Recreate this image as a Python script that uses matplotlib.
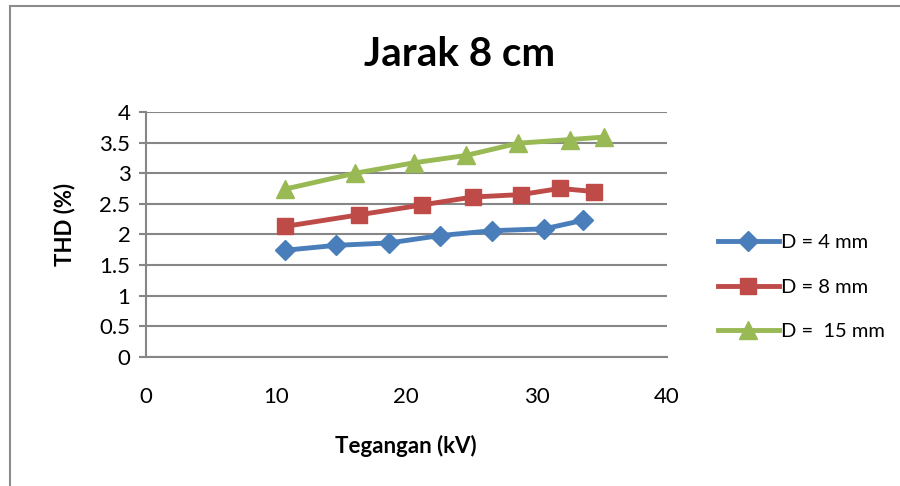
import matplotlib.pyplot as plt
from matplotlib.patches import Rectangle

plt.rcParams['font.family'] = ['Lato', 'DejaVu Sans']

# Data
x_4mm = [10.7, 14.6, 18.7, 22.6, 26.6, 30.6, 33.6]
thd_4mm = [1.74, 1.82, 1.86, 1.98, 2.06, 2.09, 2.23]

x_8mm = [10.7, 16.4, 21.2, 25.1, 28.8, 31.8, 34.4]
thd_8mm = [2.13, 2.32, 2.48, 2.61, 2.65, 2.75, 2.70]

x_15mm = [10.7, 16.1, 20.6, 24.6, 28.6, 32.6, 35.2]
thd_15mm = [2.74, 3.00, 3.17, 3.29, 3.49, 3.55, 3.59]

labels = ['D = 4 mm', 'D = 8 mm', 'D =  15 mm']
grid_col = '#868686'

fig = plt.figure(figsize=(9, 4.86), dpi=100)
ax = fig.add_axes([145.7 / 900, 1 - 356.7 / 486, (666.7 - 145.7) / 900, (356.7 - 112) / 486])

ax.plot(x_4mm, thd_4mm, color='#4a7ebb', lw=3.5, marker='D', ms=10, label=labels[0])
ax.plot(x_8mm, thd_8mm, color='#be4b48', lw=3.5, marker='s', ms=12, label=labels[1])
ax.plot(x_15mm, thd_15mm, color='#98b954', lw=3.5, marker='^', ms=13, label=labels[2])

ax.set_xlim(0, 40)
ax.set_ylim(0, 4)
ax.set_xticks([0, 10, 20, 30, 40])
ax.set_yticks([0, 0.5, 1, 1.5, 2, 2.5, 3, 3.5, 4])
ax.set_yticklabels(['0', '0.5', '1', '1.5', '2', '2.5', '3', '3.5', '4'])
ax.yaxis.grid(True, color=grid_col, lw=1.5)
ax.set_axisbelow(True)
for s in ['top', 'right']:
    ax.spines[s].set_visible(False)
for s in ['left', 'bottom']:
    ax.spines[s].set_color(grid_col)
    ax.spines[s].set_linewidth(1.5)
ax.tick_params(axis='x', length=0, pad=22, labelsize=16)
ax.tick_params(axis='y', length=5, width=1.5, color=grid_col, pad=6, labelsize=16)

ax.set_xlabel('Tegangan (kV)', fontsize=16, fontweight='bold', labelpad=20)
ax.set_ylabel('THD (%)', fontsize=16, fontweight='bold')
ax.yaxis.set_label_coords(-0.135, 0.54)
fig.text(460 / 900, 1 - 55 / 486, 'Jarak 8 cm', ha='center', va='center',
         fontsize=29, fontweight='bold')

fig.legend(loc='center left', bbox_to_anchor=(700 / 900, 1 - 287 / 486), frameon=False,
           fontsize=14.5, handlelength=3, labelspacing=1.35, handletextpad=0.1)

fig.add_artist(Rectangle((10 / 900, -0.1), 1.2, 1 - 6 / 486 + 0.1, transform=fig.transFigure,
                         fill=False, edgecolor='#8c8c8c', lw=1.5))

fig.savefig('out.png', dpi=100)
